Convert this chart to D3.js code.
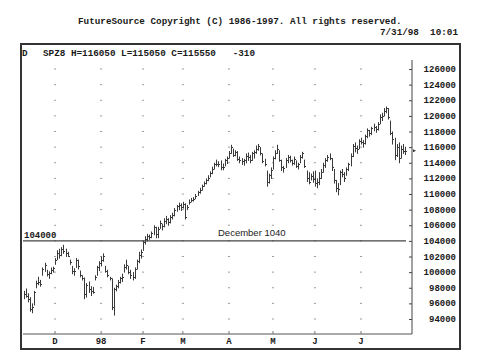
<!DOCTYPE html>
<html>
<head>
<meta charset="utf-8">
<script src="https://cdn.jsdelivr.net/npm/d3@7"></script>
<style>
  body { margin: 0; background: #fff; }
  svg { display: block; }
  .mono { font-family: "Liberation Mono", "DejaVu Sans Mono", monospace; font-weight: bold; fill: #1a1a1a; }
</style>
</head>
<body>
<div id="chart"></div>
<script>
// daily bars, SPZ8 (prices in thousands), Nov 10 1997 .. Jul 31 1998
var highs = [
  97.6, 97.9, 97.3, 96.8, 96.0, 97.6, 98.9, 99.4, 99.0, 100.6,
  101.2, 100.3, 100.1, 100.6, 100.7, 101.8, 102.8, 103.0, 103.2, 103.5,
  103.0, 102.6, 101.6, 100.8, 100.5, 101.8, 101.6, 100.2, 99.6, 99.3,
  98.6, 98.8, 98.2, 98.1, 99.6, 100.8, 101.4, 102.0, 102.4, 100.8,
  100.3, 99.4, 99.2, 98.0, 98.4, 99.0, 99.4, 99.8, 101.0, 101.6,
  100.8, 100.3, 100.0, 100.6, 101.6, 102.6, 102.9, 104.0, 104.6, 104.9,
  104.8, 105.2, 106.0, 105.8, 105.8, 106.6, 106.2, 106.9, 107.2, 106.9,
  107.3, 107.6, 108.2, 108.6, 108.9, 108.8, 109.0, 108.8, 108.6, 109.3,
  109.5, 109.6, 110.0, 110.4, 110.8, 111.2, 111.6, 112.0, 112.4, 112.9,
  113.5, 114.0, 114.4, 114.2, 114.3, 113.9, 114.5, 114.8, 115.5, 116.3,
  115.8, 115.6, 115.5, 114.8, 114.6, 114.5, 115.2, 115.3, 115.0, 115.4,
  115.6, 116.2, 116.4, 116.0, 115.2, 114.5, 113.0, 112.6, 113.4, 114.8,
  115.6, 116.3, 115.6, 114.4, 113.6, 114.6, 115.0, 114.9, 114.4, 114.8,
  114.3, 114.0, 115.0, 115.4, 114.4, 113.0, 112.8, 112.6, 112.9, 113.0,
  112.0, 112.8, 113.2, 114.0, 114.6, 115.0, 115.2, 114.6, 113.2, 111.8,
  111.4, 113.0, 113.2, 112.8, 113.4, 114.0, 115.2, 116.4, 116.6, 116.2,
  117.0, 117.2, 116.9, 117.6, 118.4, 118.2, 118.6, 119.0, 118.7, 119.2,
  120.2, 120.4, 121.0, 121.2, 121.0, 119.4, 118.0, 117.2, 116.4, 116.6,
  116.2, 116.4, 116.05
];
var lows = [
  96.6, 96.8, 96.2, 95.0, 94.8, 95.8, 98.0, 98.4, 98.2, 99.6,
  100.1, 99.5, 99.2, 99.8, 100.0, 101.0, 101.6, 101.8, 102.1, 102.4,
  102.0, 102.0, 101.0, 99.8, 99.6, 100.6, 100.4, 99.4, 99.0, 96.6,
  96.8, 97.4, 97.0, 97.3, 99.0, 99.6, 100.2, 100.8, 101.4, 100.0,
  99.4, 99.0, 95.2, 94.5, 97.6, 98.0, 98.6, 98.8, 100.0, 100.4,
  99.8, 99.2, 99.0, 99.2, 100.4, 101.2, 101.8, 102.8, 103.6, 104.0,
  104.2, 104.4, 104.8, 104.4, 104.4, 105.6, 105.4, 105.8, 106.2, 106.0,
  106.3, 106.8, 107.2, 107.8, 108.0, 107.9, 108.2, 106.8, 108.0, 108.7,
  109.0, 109.1, 109.4, 109.8, 110.1, 110.5, 111.0, 111.3, 111.7, 112.2,
  112.6, 113.2, 113.6, 113.5, 113.1, 113.1, 113.6, 113.9, 114.6, 115.2,
  114.8, 114.9, 114.3, 114.0, 113.8, 113.7, 114.0, 114.3, 114.0, 114.3,
  114.6, 115.2, 115.6, 115.0, 114.0, 113.6, 111.0, 111.4, 112.0, 113.2,
  114.5, 115.2, 114.2, 113.0, 112.8, 113.4, 114.0, 114.1, 113.7, 113.8,
  113.4, 113.2, 114.0, 114.6, 113.4, 111.6, 111.3, 111.8, 111.5, 111.0,
  110.8, 111.2, 112.0, 112.8, 113.4, 114.2, 114.4, 113.0, 111.4, 110.3,
  109.9, 111.2, 112.2, 111.6, 112.4, 113.0, 113.6, 114.8, 115.4, 115.2,
  115.8, 116.4, 116.0, 116.4, 117.2, 117.4, 117.6, 118.1, 117.9, 118.2,
  119.0, 119.4, 120.0, 120.4, 119.6, 117.6, 116.4, 114.4, 114.8, 114.0,
  114.6, 115.2, 115.05
];
var closes = [
  97.2, 97.0, 96.5, 95.3, 95.6, 97.4, 98.6, 98.8, 98.5, 100.4,
  100.9, 99.8, 99.9, 100.3, 100.5, 101.5, 102.5, 102.2, 102.9, 102.7,
  102.4, 102.1, 101.3, 100.1, 100.2, 101.5, 100.8, 99.6, 99.2, 97.2,
  98.3, 97.8, 97.6, 97.5, 99.4, 100.6, 101.2, 101.5, 102.1, 100.2,
  99.6, 99.2, 95.6, 97.8, 98.2, 98.8, 99.2, 99.4, 100.7, 100.9,
  100.0, 99.6, 99.4, 100.4, 101.4, 102.2, 102.6, 103.8, 104.3, 104.6,
  104.5, 105.0, 105.8, 104.9, 105.5, 106.3, 105.9, 106.6, 106.8, 106.4,
  107.1, 107.3, 108.0, 108.4, 108.6, 108.3, 108.7, 107.1, 108.3, 109.0,
  109.2, 109.4, 109.8, 110.2, 110.5, 111.0, 111.4, 111.8, 112.1, 112.7,
  113.2, 113.8, 113.9, 113.8, 113.4, 113.5, 114.3, 114.6, 115.2, 116.0,
  115.0, 115.4, 114.5, 114.4, 114.2, 114.3, 114.9, 114.8, 114.4, 115.2,
  115.4, 115.8, 116.2, 115.3, 114.2, 113.8, 111.6, 112.4, 113.1, 114.6,
  115.3, 115.8, 114.4, 113.4, 113.3, 114.4, 114.8, 114.3, 114.0, 114.5,
  113.6, 113.8, 114.7, 115.2, 113.6, 112.0, 111.6, 112.3, 111.9, 111.4,
  111.6, 112.1, 112.8, 113.7, 114.3, 114.8, 114.6, 113.4, 111.8, 110.8,
  110.6, 112.8, 112.6, 112.0, 113.2, 113.8, 114.9, 116.1, 115.9, 115.8,
  116.8, 116.6, 116.5, 117.4, 118.2, 117.8, 118.4, 118.6, 118.3, 119.0,
  119.8, 120.0, 120.6, 121.0, 119.8, 117.8, 117.0, 115.0, 116.0, 114.6,
  115.8, 115.5, 115.55
];
var monthLabels = ["D", "98", "F", "M", "A", "M", "J", "J"];
var monthStarts = [15, 37, 57, 76, 98, 119, 139, 161];
var priceTicks = d3.range(94, 127, 2);
var refLevel = 104;
var refLabel = "December 1040";
var titleText = "FutureSource Copyright (C) 1986-1997. All rights reserved.";
var dateText = "7/31/98  10:01";
var headerText = "SPZ8 H=116050 L=115050 C=115550   -310";

var width = 477, height = 363;

var svg = d3.select("#chart").append("svg")
    .attr("width", width)
    .attr("height", height);

var x = d3.scaleLinear().domain([0, highs.length - 1]).range([23.6, 405]);
var y = d3.scaleLinear().domain([94, 126]).range([319, 69]);

// titles above the frame
svg.append("text").attr("class", "mono")
    .attr("x", 78).attr("y", 24)
    .style("font-size", "9.3px")
    .text(titleText);
svg.append("text").attr("class", "mono")
    .attr("x", 458).attr("y", 35)
    .attr("text-anchor", "end")
    .attr("xml:space", "preserve")
    .style("font-size", "9.3px")
    .text(dateText);

// outer frame (right and bottom edges a bit heavier)
svg.append("rect")
    .attr("x", 21).attr("y", 44)
    .attr("width", 439).attr("height", 305)
    .attr("fill", "none")
    .attr("stroke", "#333")
    .attr("stroke-width", 2);
svg.append("path")
    .attr("d", "M460.5,44V349.5H21")
    .attr("fill", "none")
    .attr("stroke", "#333")
    .attr("stroke-width", 1);

// header line inside frame
svg.append("text").attr("class", "mono")
    .attr("x", 22).attr("y", 56)
    .style("font-size", "9.3px")
    .text("D");
svg.append("text").attr("class", "mono")
    .attr("x", 43).attr("y", 56)
    .attr("xml:space", "preserve")
    .style("font-size", "9.3px")
    .text(headerText);

// dotted grid: small marks at month starts and every 2000
var grid = svg.append("g").attr("class", "grid");
monthStarts.forEach(function(m) {
    grid.selectAll(null)
        .data(priceTicks)
        .enter().append("rect")
        .attr("x", x(m) - 1)
        .attr("y", function(d) { return y(d) - 0.5; })
        .attr("width", 2)
        .attr("height", 1)
        .attr("fill", "#999");
});

// bottom axis line
svg.append("line")
    .attr("x1", 23).attr("x2", 412)
    .attr("y1", 334).attr("y2", 334)
    .attr("stroke", "#555").attr("stroke-width", 1);

svg.append("g").selectAll("line")
    .data(monthStarts)
    .enter().append("line")
    .attr("x1", function(d) { return x(d); })
    .attr("x2", function(d) { return x(d); })
    .attr("y1", 331).attr("y2", 334)
    .attr("stroke", "#777");

svg.append("g").selectAll("text")
    .data(monthLabels)
    .enter().append("text")
    .attr("class", "mono")
    .attr("x", function(d, i) { return x(monthStarts[i]); })
    .attr("y", 344)
    .attr("text-anchor", "middle")
    .style("font-size", "9px")
    .text(function(d) { return d; });

// right price axis
var yAxis = d3.axisLeft(y)
    .tickValues(priceTicks)
    .tickSize(3)
    .tickFormat("");
var ya = svg.append("g")
    .attr("transform", "translate(412,0)")
    .call(yAxis);
ya.select(".domain").remove();
ya.selectAll(".tick line").attr("stroke", "#444");
svg.append("line")
    .attr("x1", 412).attr("x2", 412)
    .attr("y1", 60).attr("y2", 334)
    .attr("stroke", "#444");

svg.append("g").selectAll("text")
    .data(priceTicks)
    .enter().append("text")
    .attr("class", "mono")
    .attr("x", 456)
    .attr("y", function(d) { return y(d) + 3; })
    .attr("text-anchor", "end")
    .style("font-size", "9px")
    .text(function(d) { return d3.format("d")(d * 1000); });

// December reference line
svg.append("line")
    .attr("x1", 23).attr("x2", 406)
    .attr("y1", y(refLevel)).attr("y2", y(refLevel))
    .attr("stroke", "#444").attr("stroke-width", 1.2);
svg.append("text").attr("class", "mono")
    .attr("x", 24).attr("y", y(refLevel) - 3)
    .style("font-size", "9px")
    .text(d3.format("d")(refLevel * 1000));
svg.append("text")
    .attr("x", 218).attr("y", y(refLevel) - 5)
    .style("font-family", "'Liberation Sans', Arial, sans-serif")
    .style("font-size", "9.5px")
    .attr("fill", "#222")
    .text(refLabel);

// OHLC bars
var bars = svg.append("g").attr("class", "bars");
bars.selectAll("line.hl")
    .data(highs)
    .enter().append("line")
    .attr("class", "hl")
    .attr("x1", function(d, i) { return Math.round(x(i)) + 0.5; })
    .attr("x2", function(d, i) { return Math.round(x(i)) + 0.5; })
    .attr("y1", function(d) { return y(d); })
    .attr("y2", function(d, i) { return y(lows[i]) + 0.5; })
    .attr("stroke", "#3a3a3a");
bars.selectAll("line.cl")
    .data(closes)
    .enter().append("line")
    .attr("class", "cl")
    .attr("x1", function(d, i) { return Math.round(x(i)) + 0.5; })
    .attr("x2", function(d, i) { return Math.round(x(i)) + 2; })
    .attr("y1", function(d) { return Math.round(y(d)) + 0.5; })
    .attr("y2", function(d) { return Math.round(y(d)) + 0.5; })
    .attr("stroke", "#3a3a3a");

// last price marker
var last = closes[closes.length - 1];
svg.append("path")
    .attr("d", "M413," + (y(last) - 1.5) + "l3,1.5l-3,1.5z")
    .attr("fill", "#333");
</script>
</body>
</html>
